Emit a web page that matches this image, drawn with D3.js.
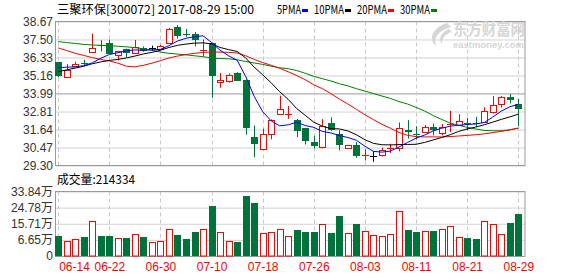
<!DOCTYPE html>
<html>
<head>
<meta charset="utf-8">
<script src="https://cdn.jsdelivr.net/npm/d3@7"></script>
<style>
body { margin: 0; background: #fff; }
svg { display: block; }
</style>
</head>
<body>
<svg width="578" height="276"></svg>
<script>
// trading days, 2017-06-14 .. 2017-08-29
var dates = ["06-14","06-15","06-16","06-19","06-20","06-21","06-22","06-23","06-26","06-27",
    "06-28","06-29","06-30","07-03","07-04","07-05","07-06","07-07","07-10","07-11",
    "07-12","07-13","07-14","07-17","07-18","07-19","07-20","07-21","07-24","07-25",
    "07-26","07-27","07-28","07-31","08-01","08-02","08-03","08-04","08-07","08-08",
    "08-09","08-10","08-11","08-14","08-15","08-16","08-17","08-18","08-21","08-22",
    "08-23","08-24","08-25","08-28","08-29"];

var openP = [36.03,35.05,35.82,36.00,36.72,37.17,37.29,36.49,36.88,36.59,
    36.97,36.93,36.84,37.23,38.32,37.86,37.88,36.78,37.27,34.72,
    34.82,35.31,34.87,31.13,30.43,31.31,32.62,32.62,32.25,31.74,
    30.85,30.54,32.05,31.38,30.39,30.66,29.96,29.95,29.95,30.37,
    30.39,31.60,31.37,31.49,31.81,31.42,31.98,31.92,32.05,32.09,
    32.14,32.79,33.30,33.76,33.30];
var highP = [36.05,35.90,36.05,36.18,37.88,37.45,37.49,36.75,36.90,37.47,
    37.05,37.10,37.16,38.26,38.43,38.19,37.99,37.50,37.30,35.31,
    35.30,35.38,34.90,31.90,31.70,32.30,33.84,33.17,32.33,31.75,
    31.24,32.31,32.44,31.59,30.61,30.83,30.35,30.22,30.46,30.72,
    32.10,32.25,31.85,31.94,32.03,32.00,32.86,32.64,32.40,32.47,
    33.08,33.82,33.82,33.95,33.64];
var lowP = [35.05,35.05,35.72,35.74,36.72,36.72,36.59,36.13,36.35,36.55,
    36.70,36.75,36.80,37.23,37.56,37.67,37.05,36.40,33.71,34.36,
    34.69,34.80,31.31,29.84,30.43,31.00,32.62,32.33,31.15,30.67,
    30.41,30.41,31.55,30.28,30.39,29.80,29.63,29.54,29.89,30.11,
    30.22,31.05,30.98,31.45,31.26,31.26,31.48,31.90,31.59,31.80,
    32.10,32.69,33.08,33.34,31.86];
var closeP = [35.13,35.52,35.93,35.95,36.97,37.12,36.59,36.75,36.59,37.01,
    36.79,36.93,37.05,38.15,37.71,37.83,37.49,36.82,35.13,34.87,
    35.20,34.80,31.74,30.67,31.38,32.25,32.97,32.66,31.55,30.89,
    30.61,31.90,31.59,30.66,30.61,29.95,29.99,29.95,30.28,30.41,
    31.71,31.49,31.33,31.81,31.59,31.81,32.03,32.18,32.01,32.05,
    32.84,33.23,33.74,33.56,32.97];

// volume in 万 shares
var volume = [8.92,5.92,7.05,8.35,17.24,8.92,8.92,7.79,7.79,9.88,
    8.35,5.52,5.92,12.71,9.48,7.22,11.18,12.71,25.91,11.01,
    5.92,5.52,31.57,27.61,10.45,11.01,12.71,8.92,12.32,11.18,
    11.18,15.55,10.62,20.25,10.45,15.72,11.58,9.31,8.75,9.88,
    22.91,12.32,11.18,11.58,11.75,12.88,14.41,8.35,7.79,7.03,
    17.24,15.55,9.88,16.28,21.4334];

var ma5 = [35.66,35.70,35.71,35.80,35.98,36.28,36.52,36.64,36.76,36.82,
    36.80,36.82,36.86,37.10,37.40,37.58,37.68,37.74,37.30,36.80,
    36.44,36.15,35.10,33.80,32.80,32.20,31.88,31.95,32.12,31.90,
    31.78,31.52,31.42,31.25,31.12,30.94,30.55,30.22,30.17,30.24,
    30.50,30.80,31.08,31.28,31.55,31.72,31.86,31.92,31.97,32.00,
    32.10,32.45,32.84,33.12,33.28];
var ma10 = [35.41,35.52,35.64,35.76,35.92,36.04,36.14,36.20,36.30,36.42,
    36.56,36.66,36.80,36.98,37.12,37.20,37.26,37.28,37.22,36.98,
    36.84,36.72,36.30,35.70,35.20,34.68,34.10,33.60,33.00,32.56,
    32.12,31.86,31.70,31.68,31.55,31.30,30.98,30.74,30.65,30.64,
    30.66,30.67,30.68,30.80,30.96,31.12,31.30,31.52,31.68,31.80,
    31.95,32.12,32.30,32.46,32.64];
var ma20 = [36.95,36.78,36.60,36.46,36.32,36.20,36.10,35.96,35.76,35.72,
    35.82,35.96,36.12,36.30,36.42,36.52,36.60,36.66,36.68,36.68,
    36.66,36.62,36.44,36.20,36.00,35.82,35.62,35.40,35.15,34.88,
    34.55,34.30,33.98,33.62,33.30,32.95,32.60,32.28,31.98,31.72,
    31.45,31.26,31.18,31.16,31.16,31.16,31.18,31.22,31.26,31.30,
    31.36,31.44,31.52,31.62,31.74];
var ma30 = [37.36,37.30,37.24,37.18,37.14,37.12,37.10,37.06,37.02,36.97,
    36.90,36.80,36.68,36.60,36.55,36.50,36.44,36.38,36.30,36.26,
    36.24,36.18,36.07,35.97,35.88,35.76,35.66,35.60,35.48,35.30,
    35.10,34.95,34.80,34.62,34.48,34.30,34.14,33.98,33.82,33.66,
    33.46,33.30,33.08,32.85,32.55,32.30,32.06,31.92,31.78,31.68,
    31.58,31.56,31.56,31.62,31.72];

var priceTicks = [38.67, 37.50, 36.33, 35.16, 33.99, 32.81, 31.64, 30.47, 29.30];
var volTicks = [-2.41, 6.65, 15.71, 24.78, 33.84];
var volLabels = ["0", "6.65万", "15.71万", "24.78万", "33.84万"];
var dateTicks = ["06-14","06-22","06-30","07-10","07-18","07-26","08-03","08-11","08-21","08-29"];
var maNames = ["5PMA", "10PMA", "20PMA", "30PMA"];

var maSeries = [ma5, ma10, ma20, ma30],
    maColors = ["#0000ff", "#000000", "#ff0000", "#008000"],
    upColor = "#ff0000", downColor = "#00733a", flatColor = "#000000",
    numFont = "'Liberation Sans', Arial, 'Noto Sans CJK SC', sans-serif",
    cjkFont = "'Noto Sans CJK SC', sans-serif";

var svg = d3.select("svg"),
    left = 56, right = 525,
    priceTop = 21.5, priceBottom = 165.5,
    volTop = 191.5, volBottom = 256;

var x = d3.scalePoint().domain(dates).range([58.2, 518.3]);
var y = d3.scaleLinear().domain(d3.extent(priceTicks)).range([priceBottom, priceTop]);
var yv = d3.scaleLinear().domain(d3.extent(volTicks)).range([volBottom, volTop]);

function px(d) {
    return Math.round(x(d));
}

// price grid + labels
var yAxis = svg.append("g")
    .attr("transform", "translate(" + left + ",0)")
    .call(d3.axisLeft(y).tickValues(priceTicks).tickSize(-(right - left)).tickPadding(3)
        .tickFormat(d3.format(".2f")));
yAxis.select(".domain").remove();
yAxis.selectAll("line").attr("stroke", function (d) {
    return d === 33.99 ? "#999" : "#d2d2d2";
});
yAxis.selectAll("text").attr("font-family", numFont).attr("font-size", 12).attr("fill", "#333");

// volume grid + labels
var vAxis = svg.append("g")
    .attr("transform", "translate(" + left + ",0)")
    .call(d3.axisLeft(yv).tickValues(volTicks).tickSize(-(right - left)).tickPadding(3)
        .tickFormat(function (d, i) { return volLabels[i]; }));
vAxis.select(".domain").remove();
vAxis.selectAll("line").attr("stroke", "#d2d2d2");
vAxis.selectAll("text").attr("font-family", numFont).attr("font-size", 12).attr("fill", "#333");

// vertical dashed lines
var vGrid = svg.append("g").attr("stroke", "#c8c8c8").attr("stroke-dasharray", "4,3");
[[priceTop, priceBottom], [volTop, volBottom]].forEach(function (r) {
    vGrid.selectAll(null).data(dateTicks).enter().append("line")
        .attr("x1", function (d) { return px(d) + 0.5; })
        .attr("x2", function (d) { return px(d) + 0.5; })
        .attr("y1", r[0]).attr("y2", r[1]);
});

// panel borders
svg.append("rect").attr("x", left - 0.5).attr("y", priceTop).attr("width", right - left + 0.5)
    .attr("height", priceBottom - priceTop).attr("fill", "none").attr("stroke", "#999");
svg.append("rect").attr("x", left - 0.5).attr("y", volTop).attr("width", right - left + 0.5)
    .attr("height", volBottom - volTop + 0.5).attr("fill", "none").attr("stroke", "#999");

// watermark
var wm = svg.append("g").attr("fill", "#d6d6d6");
wm.append("path").attr("d", "M447,23 C434,27 427,38 436,46 C433,39 437,31 451,27 Z M449,29 C441,32 438,39 442,44 C442,38 445,34 452,32 Z");
wm.append("text").attr("x", 453).attr("y", 34.5).attr("font-family", cjkFont).attr("font-weight", "bold")
    .attr("font-size", 16).attr("textLength", 72).attr("lengthAdjust", "spacingAndGlyphs").text("东方财富网");
wm.append("text").attr("x", 453).attr("y", 47.5).attr("font-family", numFont).attr("font-weight", "bold")
    .attr("font-size", 9).attr("textLength", 71).attr("lengthAdjust", "spacingAndGlyphs").text("eastmoney.com");

// x labels
var xAxis = svg.append("g")
    .attr("transform", "translate(0," + volBottom + ")")
    .call(d3.axisBottom(x).tickValues(dateTicks).tickSize(0).tickPadding(6.5));
xAxis.select(".domain").remove();
xAxis.selectAll("text").attr("font-family", numFont).attr("font-size", 12).attr("fill", "#ff0000");
xAxis.selectAll("text").filter(function (d, i) { return i === 0; })
    .attr("text-anchor", "start").attr("x", 0.5);

function candleColor(i) {
    if (closeP[i] > openP[i]) return upColor;
    if (closeP[i] < openP[i]) return downColor;
    return flatColor;
}

// candles
var candle = svg.append("g").selectAll("g").data(dates).enter().append("g");
candle.append("line")
    .attr("x1", function (d) { return px(d) + 0.5; })
    .attr("x2", function (d) { return px(d) + 0.5; })
    .attr("y1", function (d, i) { return y(highP[i]); })
    .attr("y2", function (d, i) { return y(lowP[i]); })
    .attr("stroke", function (d, i) { return candleColor(i); });
candle.each(function (d, i) {
    var g = d3.select(this), c = candleColor(i),
        top = y(Math.max(openP[i], closeP[i])), bot = y(Math.min(openP[i], closeP[i]));
    if (bot - top < 1.5) {
        g.append("line").attr("x1", px(d) - 3).attr("x2", px(d) + 4)
            .attr("y1", Math.round(top) + 0.5).attr("y2", Math.round(top) + 0.5).attr("stroke", c);
    } else if (c === upColor) {
        g.append("rect").attr("x", px(d) - 2.5).attr("y", Math.round(top) + 0.5)
            .attr("width", 6).attr("height", Math.max(1, Math.round(bot - top)))
            .attr("fill", "#fff").attr("stroke", c);
    } else {
        g.append("rect").attr("x", px(d) - 3).attr("y", Math.round(top))
            .attr("width", 7).attr("height", Math.max(1, Math.round(bot - top)))
            .attr("fill", c);
    }
});

// moving averages
var line = d3.line()
    .x(function (d, i) { return x(dates[i]); })
    .y(function (d) { return y(d); });
svg.append("g").selectAll("path").data(maSeries.slice().reverse()).enter().append("path")
    .attr("d", line)
    .attr("fill", "none")
    .attr("stroke", function (d, i) { return maColors[maSeries.length - 1 - i]; })
    .attr("stroke-width", 1);

// volume bars
svg.append("g").selectAll("rect").data(dates).enter().append("rect")
    .each(function (d, i) {
        var r = d3.select(this), top = Math.round(yv(volume[i]));
        if (closeP[i] >= openP[i]) {
            r.attr("x", px(d) - 2.5).attr("y", top + 0.5).attr("width", 6)
                .attr("height", volBottom - top - 0.5).attr("fill", "#fff").attr("stroke", upColor);
        } else {
            r.attr("x", px(d) - 3).attr("y", top).attr("width", 7)
                .attr("height", volBottom - top).attr("fill", downColor);
        }
    });

// header
svg.append("text").attr("x", 57).attr("y", 13.5).attr("font-family", cjkFont).attr("font-size", 12)
    .attr("textLength", 197).attr("lengthAdjust", "spacingAndGlyphs")
    .text("三聚环保[300072] 2017-08-29 15:00");

var legend = svg.append("g"), lx = 277;
maNames.forEach(function (name, i) {
    var w = name.length * 6;
    legend.append("text").attr("x", lx).attr("y", 13.5).attr("font-family", cjkFont).attr("font-size", 12)
        .attr("textLength", w).attr("lengthAdjust", "spacingAndGlyphs").text(name);
    legend.append("rect").attr("x", lx + w + 1).attr("y", 9).attr("width", 6).attr("height", 3)
        .attr("fill", maColors[i]);
    lx += w + 13;
});

svg.append("text").attr("x", 57).attr("y", 183.5).attr("font-family", cjkFont).attr("font-size", 12)
    .attr("textLength", 78).attr("lengthAdjust", "spacingAndGlyphs")
    .text("成交量:" + Math.round(volume[volume.length - 1] * 10000));
</script>
</body>
</html>
